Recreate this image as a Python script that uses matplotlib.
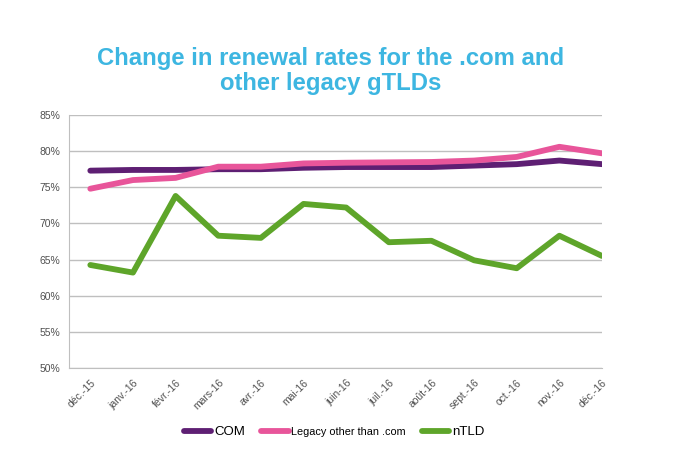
import matplotlib
matplotlib.use("Agg")
import matplotlib.pyplot as plt
from matplotlib.ticker import FuncFormatter

plt.rcParams['font.family'] = ['Liberation Sans', 'DejaVu Sans']

months = ['déc.-15', 'janv.-16', 'févr.-16', 'mars-16', 'avr.-16', 'mai-16', 'juin-16',
          'juil.-16', 'août-16', 'sept.-16', 'oct.-16', 'nov.-16', 'déc.-16']
com = [77.3, 77.4, 77.4, 77.5, 77.5, 77.7, 77.8, 77.8, 77.8, 78.0, 78.2, 78.7, 78.2]
legacy = [74.8, 76.0, 76.3, 77.85, 77.85, 78.3, 78.4, 78.45, 78.5, 78.7, 79.2, 80.6, 79.7]
ntld = [64.25, 63.2, 73.8, 68.3, 68.0, 72.7, 72.2, 67.4, 67.6, 64.9, 63.8, 68.3, 65.5]
yticks = [50, 55, 60, 65, 70, 75, 80, 85]

fig = plt.figure(figsize=(6.79, 4.54), dpi=100)
ax = fig.add_axes([69/679, 1-368/454, (602-69)/679, (368-115)/454])

x = list(range(len(months)))
lw = 4.2
ax.plot(x, com, color='#5E1F73', lw=lw, solid_capstyle='round', label='COM', zorder=3)
ax.plot(x, legacy, color='#E8559A', lw=lw, solid_capstyle='round', label='Legacy other than .com', zorder=4)
ax.plot(x, ntld, color='#5EA52A', lw=lw, solid_capstyle='round', label='nTLD', zorder=3)

ax.set_ylim(50, 85)
ax.set_xlim(-0.5, 12.0)
ax.set_yticks(yticks)
ax.yaxis.set_major_formatter(FuncFormatter(lambda v, p: f'{int(v)}%'))
ax.set_xticks(x)
ax.set_xticklabels(months, rotation=45, ha='right', rotation_mode='anchor')
ax.tick_params(axis='both', length=0, labelsize=7.5, colors='#505050', pad=6)
ax.tick_params(axis='x', pad=7)
ax.grid(axis='y', color='#BFBFBF', lw=1.0)
ax.set_axisbelow(True)
for s in ['top', 'right']:
    ax.spines[s].set_visible(False)
ax.spines['left'].set_color('#BFBFBF')
ax.spines['bottom'].set_color('#BFBFBF')

fig.text(0.487, 1-71/454, 'Change in renewal rates for the .com and\nother legacy gTLDs',
         ha='center', va='center', fontsize=17.2, fontweight='bold', color='#3DB6E1',
         linespacing=1.15)

leg = fig.legend(loc='center', bbox_to_anchor=(0.492, 1-432/454), ncol=3, frameon=False,
                 fontsize=9.5, handlelength=2.1, handletextpad=0.2, columnspacing=1.2)
for t in leg.get_texts():
    if t.get_text().startswith('Legacy'):
        t.set_fontsize(7.8)

fig.savefig('out.png', dpi=100)
